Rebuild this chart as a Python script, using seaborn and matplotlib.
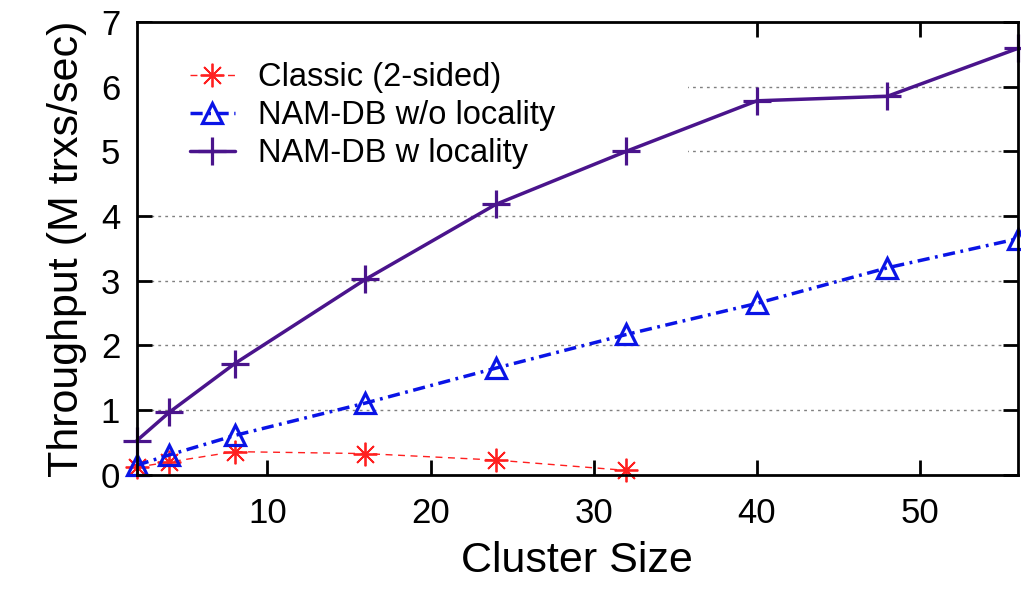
import numpy as np
import pandas as pd
import matplotlib
matplotlib.use("Agg")
import matplotlib.pyplot as plt
import seaborn as sns
from matplotlib.patches import Rectangle

cluster_size = [2, 4, 8, 16, 24, 32, 40, 48, 56]
classic = [0.12, 0.2, 0.36, 0.33, 0.23, 0.07]          # only up to 32
nam_wo_locality = [0.15, 0.31, 0.61, 1.11, 1.65, 2.17, 2.65, 3.2, 3.65]
nam_w_locality = [0.53, 0.97, 1.72, 3.02, 4.18, 5.0, 5.78, 5.85, 6.59]

x_ticks = [10, 20, 30, 40, 50]
y_ticks = [0, 1, 2, 3, 4, 5, 6, 7]

sns.set_style("ticks")
plt.rcParams['font.family'] = ['Liberation Sans', 'DejaVu Sans']
plt.rcParams['text.color'] = 'black'
plt.rcParams['axes.labelcolor'] = 'black'
plt.rcParams['xtick.color'] = 'black'
plt.rcParams['ytick.color'] = 'black'

fig, ax = plt.subplots(figsize=(10.21, 5.90), dpi=100)
fig.subplots_adjust(left=0.134, right=0.997, bottom=0.195, top=0.963)

# grid lines (dotted)
for y in y_ticks[1:-1]:
    ax.axhline(y, color='#808080', lw=1.0, ls=(0, (2, 3)), zorder=0)

# white block behind the key, covers the grid like gnuplot does
ax.add_patch(Rectangle((0, 0.66), 0.626, 0.34, transform=ax.transAxes,
                       facecolor='white', edgecolor='none', zorder=1))

sns.lineplot(x=cluster_size[:len(classic)], y=classic, ax=ax, color='#ff2020',
             lw=1.0, ls=(0, (5, 4)), marker=(8, 2, 0), markersize=17, mew=1.3,
             mec='#ff2020', label='Classic (2-sided)', zorder=3, clip_on=False)
sns.lineplot(x=cluster_size, y=nam_wo_locality, ax=ax, color='#0a14e6',
             lw=2.5, ls=(0, (3.5, 1.6, 0.8, 1.6)), marker='^', markersize=15,
             mew=2.3, mfc='none', mec='#0a14e6',
             label='NAM-DB w/o locality', zorder=4, clip_on=False)
sns.lineplot(x=cluster_size, y=nam_w_locality, ax=ax, color='#4a148c',
             lw=2.5, marker='+', markersize=20, mew=2.3, mec='#4a148c',
             label='NAM-DB w locality', zorder=5, clip_on=False)

ax.set_xlim(2, 56)
ax.set_ylim(0, 7)
ax.set_xticks(x_ticks)
ax.set_yticks(y_ticks)
ax.tick_params(axis='both', which='major', direction='in', length=11, width=2,
               labelsize=25, top=True, right=True, pad=12, color='black',
               labelcolor='black')
ax.tick_params(axis='x', pad=16)
for s in ax.spines.values():
    s.set_linewidth(2)
    s.set_color('black')
    s.set_zorder(6)

ax.set_xlabel('Cluster Size', fontsize=31, labelpad=8)
ax.set_ylabel('Throughput (M trxs/sec)', fontsize=31, labelpad=10)

leg = ax.legend(loc='upper left', bbox_to_anchor=(0.045, 0.94), frameon=False,
                fontsize=23.5, handlelength=1.4, handletextpad=0.7,
                labelspacing=0.22, borderaxespad=0)

fig.savefig('out.png', dpi=100)
